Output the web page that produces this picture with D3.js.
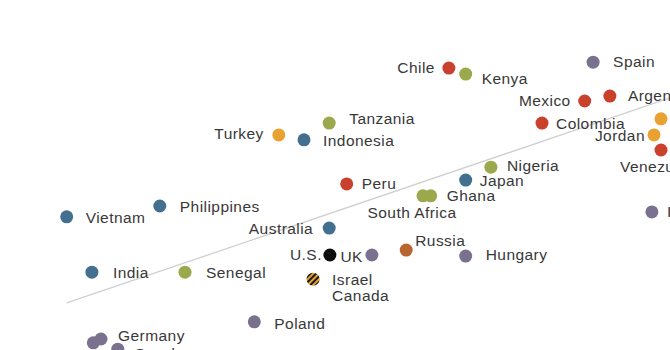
<!DOCTYPE html>
<html>
<head>
<meta charset="utf-8">
<script src="https://cdn.jsdelivr.net/npm/d3@7"></script>
<style>
  html, body { margin: 0; padding: 0; background: #fff; }
  svg { display: block; }
  .lbl { font-family: "Liberation Sans", Arial, sans-serif; font-size: 15.5px; letter-spacing: 0.45px; fill: #383838; }
</style>
</head>
<body>
<svg id="chart" width="670" height="350"></svg>
<script>
// Countries and their two measures (percent)
const countries = ["Chile","Kenya","Spain","Mexico","Argentina","Colombia","Turkey","Indonesia","Tanzania",
  "Lebanon","Jordan","Venezuela","Nigeria","Japan","Peru","South Africa","Ghana","Vietnam","Philippines",
  "Australia","Italy","U.S.","UK","Russia","Hungary","India","Senegal","Israel","Poland","France","Germany","Sweden"];
const xValues = [62.7,65.1,83.3,82.1,85.7,76.0,38.4,42.0,45.6,
  93.0,92.0,93.0,68.7,65.1,48.1,59.0,60.1,8.1,21.4,
  45.6,91.7,45.7,51.7,56.6,65.1,11.7,25.0,43.3,34.9,11.9,13.0,15.4];
const yValues = [83.4,81.7,85.1,74.0,75.4,67.7,64.3,62.9,67.7,
  68.9,64.3,60.0,55.1,51.4,50.3,46.9,46.9,40.9,44.0,
  37.7,42.3,30.0,30.0,31.4,29.7,25.1,25.1,23.1,10.9,4.9,6.0,3.1];
const regions = ["latam","africa","europe","latam","latam","latam","mideast","asia","africa",
  "mideast","mideast","latam","africa","asia","latam","africa","africa","asia","asia",
  "asia","europe","us","europe","russia","europe","asia","africa","shared","europe","europe","europe","europe"];
// Israel and Canada sit on the same spot
const extraLabel = { "Israel": "Canada" };

// Fitted trend line, endpoints in data units
const trendX = [8.1, 94.3];
const trendY = [16.3, 74.9];

const regionColors = {
  latam: "#c9402c", africa: "#9ba84c", asia: "#43708f", mideast: "#e9a232",
  europe: "#7a718e", russia: "#b8652f", us: "#0d0d0d"
};

// Label placement: [dx, dy, anchor]
const labelPlace = {
  "Chile": [-14,5,"end"], "Kenya": [16,10,"start"], "Spain": [20,5,"start"], "Mexico": [-14,5,"end"],
  "Argentina": [18,5,"start"], "Colombia": [14,6,"start"], "Turkey": [-15,4,"end"], "Indonesia": [19,6,"start"],
  "Tanzania": [20,1,"start"], "Lebanon": [20,5,"start"], "Jordan": [-9,6,"end"], "Venezuela": [-41,22,"start"],
  "Nigeria": [16,4,"start"], "Japan": [14,6,"start"], "Peru": [15,5,"start"], "South Africa": [-11,22,"middle"],
  "Ghana": [16,5,"start"], "Vietnam": [19,6,"start"], "Philippines": [20,6,"start"], "Australia": [-16,6,"end"],
  "Italy": [15,5,"start"], "U.S.": [-8,5,"end"], "UK": [-9,7,"end"], "Russia": [9,-4,"start"],
  "Hungary": [20,4,"start"], "India": [21,6,"start"], "Senegal": [21,6,"start"], "Israel": [19,6,"start"],
  "Poland": [20,7,"start"], "France": [0,30,"middle"], "Germany": [17,2,"start"], "Sweden": [17,10,"start"]
};

const data = countries.map((c, i) => ({ name: c, x: xValues[i], y: yValues[i], region: regions[i] }));

const svg = d3.select("#chart");
const x = d3.scaleLinear().domain([0, 100]).range([10, 710]);
const y = d3.scaleLinear().domain([0, 100]).range([360, 10]);

// Striped fill for the shared Israel/Canada point
const defs = svg.append("defs");
const pat = defs.append("pattern")
  .attr("id", "stripes").attr("patternUnits", "userSpaceOnUse")
  .attr("width", 4).attr("height", 4).attr("patternTransform", "rotate(45)");
pat.append("rect").attr("width", 4).attr("height", 4).attr("fill", regionColors.mideast);
pat.append("rect").attr("width", 2).attr("height", 4).attr("fill", "#1a1a1a");

// Trend line
svg.append("line")
  .attr("x1", x(trendX[0])).attr("y1", y(trendY[0]))
  .attr("x2", x(trendX[1])).attr("y2", y(trendY[1]))
  .attr("stroke", "#cfcfcf").attr("stroke-width", 1.3);

// Points
svg.append("g").selectAll("circle").data(data).join("circle")
  .attr("cx", d => x(d.x)).attr("cy", d => y(d.y)).attr("r", 6.5)
  .attr("fill", d => d.region === "shared" ? "url(#stripes)" : regionColors[d.region]);

// Labels
const lg = svg.append("g");
data.forEach(d => {
  const p = labelPlace[d.name];
  lg.append("text").attr("class", "lbl")
    .attr("x", x(d.x) + p[0]).attr("y", y(d.y) + p[1])
    .attr("text-anchor", p[2]).text(d.name);
  if (extraLabel[d.name]) {
    lg.append("text").attr("class", "lbl")
      .attr("x", x(d.x) + p[0]).attr("y", y(d.y) + p[1] + 16)
      .attr("text-anchor", p[2]).text(extraLabel[d.name]);
  }
});
</script>
</body>
</html>
